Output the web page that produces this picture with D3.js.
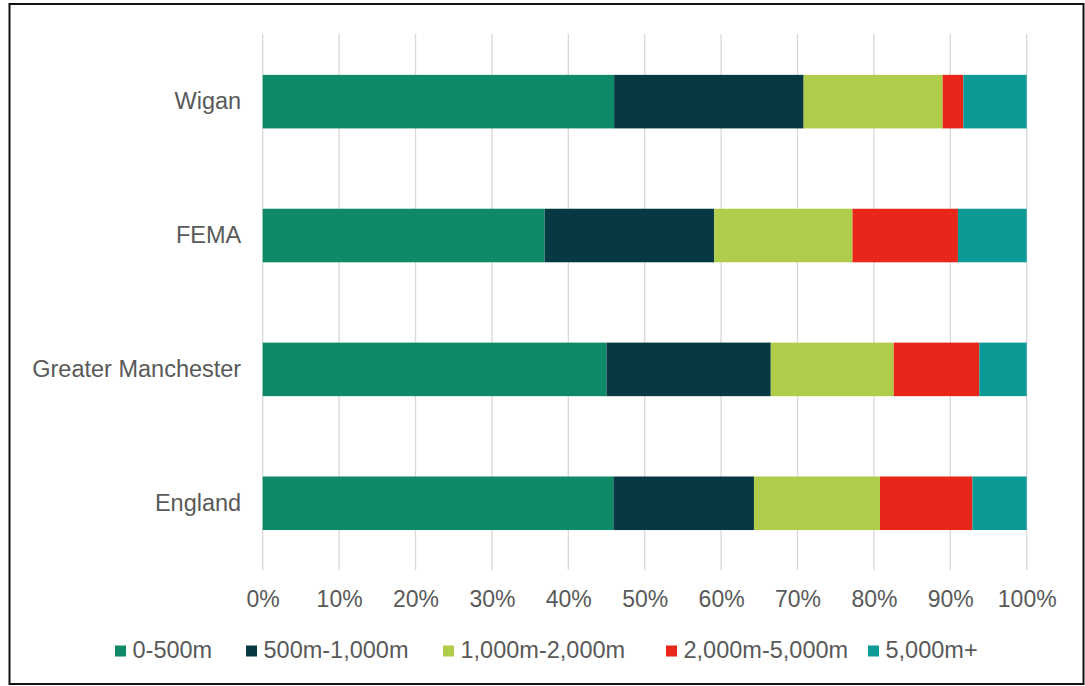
<!DOCTYPE html>
<html>
<head>
<meta charset="utf-8">
<script src="https://cdn.jsdelivr.net/npm/d3@7"></script>
<style>
  html, body { margin: 0; padding: 0; background: #ffffff; }
  svg { display: block; }
  text { font-family: "Liberation Sans", Arial, sans-serif; fill: #595959; }
</style>
</head>
<body>
<svg id="chart" width="1085" height="686"></svg>
<script>
// Areas shown, top to bottom
const areas = ["Wigan", "FEMA", "Greater Manchester", "England"];
// Distance bands (stack order, left to right)
const bands = ["0-500m", "500m-1,000m", "1,000m-2,000m", "2,000m-5,000m", "5,000m+"];
// Share of each area in each distance band (%)
const share0_500 =     [46.0, 36.9, 45.0, 45.9];
const share500_1000 =  [24.8, 22.2, 21.5, 18.4];
const share1000_2000 = [18.2, 18.1, 16.1, 16.5];
const share2000_5000 = [ 2.7, 13.8, 11.2, 12.1];
const share5000plus =  [ 8.3,  9.0,  6.2,  7.1];
const bandColours = ["#0e8a69", "#063942", "#afcc4b", "#e8261a", "#0c9a97"];
const xTicks = [0, 0.1, 0.2, 0.3, 0.4, 0.5, 0.6, 0.7, 0.8, 0.9, 1.0];

const seriesValues = [share0_500, share500_1000, share1000_2000, share2000_5000, share5000plus];
const rows = areas.map((a, i) => {
  const r = { area: a };
  const total = d3.sum(seriesValues, s => s[i]);
  bands.forEach((b, j) => { r[b] = seriesValues[j][i] / total; });
  return r;
});

const svg = d3.select("#chart");
const labelFont = "23.5px";

// Outer frame
svg.append("rect")
  .attr("x", 9.5).attr("y", 4).attr("width", 1074).attr("height", 680)
  .attr("fill", "#ffffff").attr("stroke", "#111111").attr("stroke-width", 2);

const plot = { left: 262.7, right: 1026.7, top: 34.7, bottom: 570.2 };

const x = d3.scaleLinear().domain([0, 1]).range([plot.left, plot.right]);
const y = d3.scaleBand().domain(areas).range([plot.top, plot.bottom])
  .paddingInner(0.6).paddingOuter(0.3);

// Vertical gridlines
svg.append("g")
  .selectAll("line")
  .data(xTicks)
  .join("line")
  .attr("x1", d => x(d)).attr("x2", d => x(d))
  .attr("y1", plot.top - 1).attr("y2", plot.bottom)
  .attr("stroke", "#d9d9d9").attr("stroke-width", 1.3);

// Stacked bars
const stack = d3.stack().keys(bands)(rows);
const colour = d3.scaleOrdinal().domain(bands).range(bandColours);

svg.append("g")
  .selectAll("g")
  .data(stack)
  .join("g")
  .attr("fill", d => colour(d.key))
  .selectAll("rect")
  .data(d => d)
  .join("rect")
  .attr("x", d => x(d[0]))
  .attr("width", d => x(d[1]) - x(d[0]))
  .attr("y", d => y(d.data.area))
  .attr("height", y.bandwidth());

// Category labels
const yAxis = d3.axisLeft(y).tickSize(0).tickPadding(21.5);
const gy = svg.append("g").attr("transform", `translate(${plot.left},0)`).call(yAxis);
gy.select(".domain").remove();
gy.selectAll("text")
  .style("font-size", labelFont)
  .style("font-family", "'Liberation Sans', Arial, sans-serif")
  .attr("fill", "#595959");

// Percentage axis
const xAxis = d3.axisBottom(x).tickValues(xTicks).tickFormat(d3.format(".0%")).tickSize(0).tickPadding(20);
const gx = svg.append("g").attr("transform", `translate(0,${plot.bottom})`).call(xAxis);
gx.select(".domain").remove();
gx.selectAll("text")
  .style("font-size", "23px")
  .style("font-family", "'Liberation Sans', Arial, sans-serif")
  .attr("fill", "#595959");

// Legend
const legendX = [115, 246, 443, 666, 868];
const legend = svg.append("g")
  .selectAll("g")
  .data(bands)
  .join("g")
  .attr("transform", (d, i) => `translate(${legendX[i]},645.5)`);
legend.append("rect")
  .attr("width", 11).attr("height", 11)
  .attr("fill", d => colour(d));
legend.append("text")
  .attr("x", 17.5).attr("y", 12.8)
  .style("font-size", labelFont)
  .text(d => d);
</script>
</body>
</html>
